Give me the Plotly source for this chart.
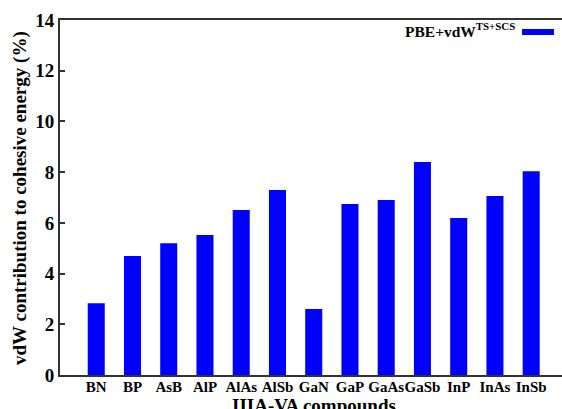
import plotly.graph_objects as go

# vdW (TS+SCS) share of the cohesive energy for III-V compounds
compounds = ["BN", "BP", "AsB", "AlP", "AlAs", "AlSb", "GaN",
             "GaP", "GaAs", "GaSb", "InP", "InAs", "InSb"]
vdw_percent = [2.83, 4.69, 5.20, 5.52, 6.51, 7.30, 2.60,
               6.74, 6.90, 8.40, 6.19, 7.06, 8.04]
y_ticks = [0, 2, 4, 6, 8, 10, 12, 14]

SERIF = "Liberation Serif"
W, H = 562, 409
ML, MR, MT, MB = 60, 0, 20, 34

fig = go.Figure(go.Bar(
    x=list(range(len(compounds))),
    y=vdw_percent,
    width=0.47,
    marker=dict(color="#0000ff", line=dict(width=0)),
    showlegend=False,
))

fig.update_layout(
    width=W, height=H,
    margin=dict(l=ML, r=MR, t=MT, b=MB, autoexpand=False),
    paper_bgcolor="white", plot_bgcolor="white",
    font=dict(family=SERIF, color="black"),
)

fig.update_xaxes(
    range=[-1.0, 12.85],
    tickmode="array",
    tickvals=list(range(len(compounds))),
    ticktext=["<b>%s</b>" % c for c in compounds],
    tickangle=0, automargin=False, ticklabelstandoff=-3,
    tickfont=dict(family=SERIF, size=15),
    ticks="", showgrid=False, zeroline=False,
    showline=True, linecolor="#333333", linewidth=2, mirror=True,
)

fig.update_yaxes(
    range=[0, 14],
    tickmode="array",
    tickvals=y_ticks,
    ticktext=["<b>%d</b>" % v for v in y_ticks],
    automargin=False,
    tickfont=dict(family=SERIF, size=19),
    ticks="inside", ticklen=5, tickwidth=1.5, tickcolor="#333333",
    showgrid=False, zeroline=False,
    showline=True, linecolor="#333333", linewidth=2, mirror=False,
)

pw = W - ML - MR
ph = H - MT - MB


def px(xp):
    return (xp - ML) / pw


def py(yp):
    return (H - MB - yp) / ph


# axis titles
fig.add_annotation(
    text="<b>vdW contribution to cohesive energy (%)</b>",
    xref="paper", yref="paper", x=px(20), y=py(198),
    xanchor="center", yanchor="middle", textangle=-90,
    showarrow=False, font=dict(family=SERIF, size=19),
)
fig.add_annotation(
    text="<b>IIIA-VA compounds</b>",
    xref="paper", yref="paper", x=px(314), y=py(393),
    xanchor="center", yanchor="top",
    showarrow=False, font=dict(family=SERIF, size=19),
)

# key: label plus a bar-coloured sample line
fig.add_annotation(
    text="<b>PBE+vdW<sup>TS+SCS</sup></b>",
    xref="paper", yref="paper", x=px(517), y=py(30),
    xanchor="right", yanchor="middle",
    showarrow=False, font=dict(family=SERIF, size=15.5),
)
fig.add_shape(
    type="line", xref="paper", yref="paper",
    x0=px(522), x1=px(554), y0=py(32), y1=py(32),
    line=dict(color="#0000ff", width=6),
)

fig.write_html("out.html")
